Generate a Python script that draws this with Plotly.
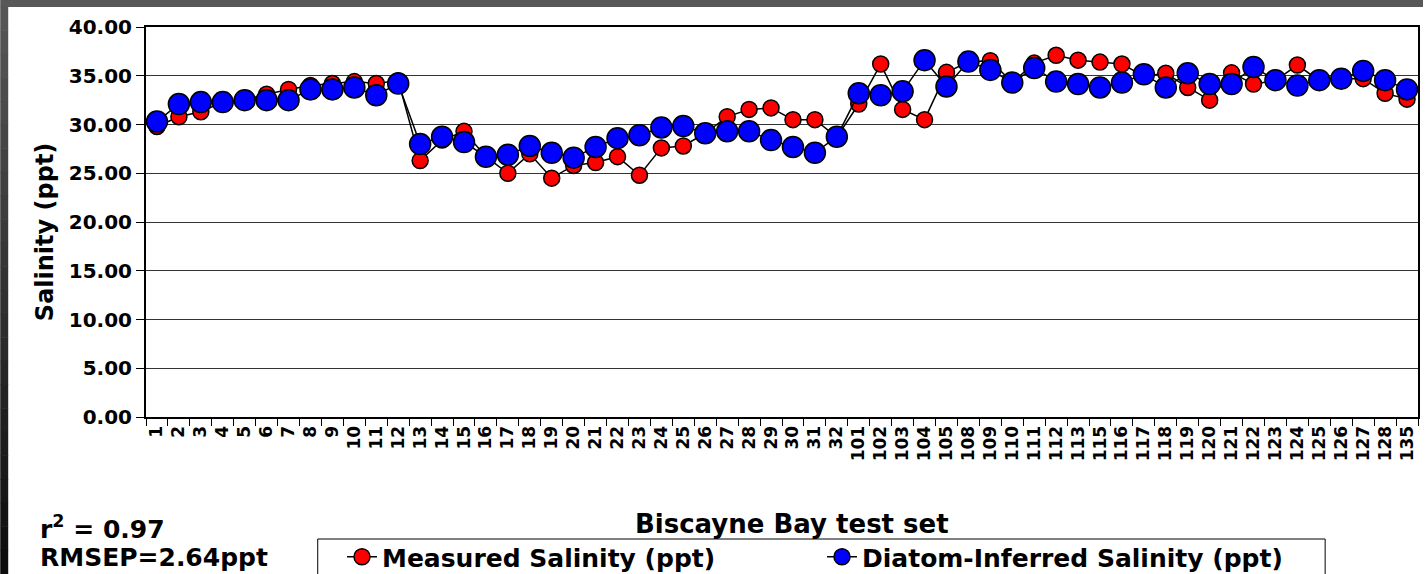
import plotly.graph_objects as go

# Biscayne Bay test-set sites
sites = [str(i) for i in range(1, 33)] + [
    "101", "102", "103", "104", "105", "108", "109", "110", "111", "112", "113",
    "115", "116", "117", "118", "119", "120", "121", "122", "123", "124", "125",
    "126", "127", "128", "135",
]

measured = [
    29.8, 30.8, 31.3, 32.3, 32.5, 33.1, 33.6, 34.0, 34.2, 34.4, 34.2, 34.5,
    26.3, 28.4, 29.3, 26.7, 25.0, 27.0, 24.5, 25.8, 26.1, 26.7, 24.8, 27.6,
    27.8, 29.1, 30.8, 31.55, 31.7, 30.5, 30.5, 28.7,
    32.1, 36.2, 31.55, 30.5, 35.35, 36.4, 36.55, 34.3, 36.3, 37.1, 36.6, 36.4,
    36.2, 34.95, 35.25, 33.8, 32.5, 35.3, 34.15, 34.5, 36.1, 34.5, 34.7, 34.7,
    33.2, 32.6,
]

inferred = [
    30.3, 32.1, 32.3, 32.3, 32.5, 32.5, 32.5, 33.6, 33.6, 33.8, 33.0, 34.2,
    28.0, 28.75, 28.2, 26.7, 26.9, 27.8, 27.1, 26.6, 27.7, 28.6, 28.9, 29.7,
    29.85, 29.1, 29.3, 29.3, 28.4, 27.7, 27.1, 28.75,
    33.2, 33.0, 33.4, 36.6, 33.9, 36.45, 35.6, 34.3, 35.8, 34.4, 34.15, 33.8,
    34.3, 35.15, 33.8, 35.25, 34.15, 34.15, 35.9, 34.55, 34.0, 34.55, 34.7,
    35.5, 34.55, 33.6,
]

y_ticks = [0, 5, 10, 15, 20, 25, 30, 35, 40]
y_tick_text = ["%.2f" % v for v in y_ticks]

W, H = 1425, 574
ML, MR, MT, MB = 146, 5, 27, 157
PW, PH = W - ML - MR, H - MT - MB

FONT = "DejaVu Sans"


def px_x(px):
    return (px - ML) / PW


def px_y(py):
    return (H - MB - py) / PH


fig = go.Figure()

fig.add_trace(go.Scatter(
    x=sites, y=measured, mode="lines+markers",
    name="<b>Measured Salinity (ppt)</b>", legend="legend",
    line=dict(color="black", width=1.5),
    marker=dict(color="#ff0000", size=16, line=dict(color="black", width=1.5)),
))
fig.add_trace(go.Scatter(
    x=sites, y=inferred, mode="lines+markers",
    name="<b>Diatom-Inferred Salinity (ppt)</b>", legend="legend2",
    line=dict(color="black", width=1.5),
    marker=dict(color="#0000ff", size=21, line=dict(color="black", width=1.5)),
))

# slide frame: grey top strip and dark left strip shading to black
shapes = [dict(type="rect", xref="paper", yref="paper",
               x0=px_x(0), x1=px_x(W), y0=px_y(7), y1=px_y(0),
               fillcolor="#585858", line=dict(width=0), layer="below")]
bands = 24
for i in range(bands):
    y0 = 7 + (H - 7) * i / bands
    y1 = 7 + (H - 7) * (i + 1) / bands
    g = int(88 - (88 - 12) * (i + 0.5) / bands)
    shapes.append(dict(type="rect", xref="paper", yref="paper",
                       x0=px_x(0), x1=px_x(8), y0=px_y(y1), y1=px_y(y0 - 0.5),
                       fillcolor="rgb(%d,%d,%d)" % (g, g, g),
                       line=dict(width=0), layer="below"))

# box around the two legend entries
shapes.append(dict(type="rect", xref="paper", yref="paper",
                   x0=px_x(318), x1=px_x(1327), y0=px_y(H + 6), y1=px_y(539),
                   fillcolor="white", line=dict(color="black", width=1),
                   layer="below"))

annotations = [
    dict(text="<b>Salinity (ppt)</b>", xref="paper", yref="paper",
         x=px_x(45), y=px_y(232), xanchor="center", yanchor="middle",
         textangle=-90, showarrow=False,
         font=dict(family=FONT, size=24, color="black")),
    dict(text="<b>Biscayne Bay test set</b>", xref="paper", yref="paper",
         x=px_x(793), y=px_y(524), xanchor="center", yanchor="middle",
         showarrow=False,
         font=dict(family=FONT, size=26, color="black")),
    dict(text="<b>r<sup>2</sup> = 0.97</b>", xref="paper", yref="paper",
         x=px_x(38), y=px_y(527), xanchor="left", yanchor="middle",
         showarrow=False,
         font=dict(family=FONT, size=25, color="black")),
    dict(text="<b>RMSEP=2.64ppt</b>", xref="paper", yref="paper",
         x=px_x(38), y=px_y(557), xanchor="left", yanchor="middle",
         showarrow=False,
         font=dict(family=FONT, size=25, color="black")),
]

legend_style = dict(
    orientation="h", xref="container", yref="container",
    xanchor="left", yanchor="middle",
    bgcolor="rgba(0,0,0,0)", borderwidth=0,
    font=dict(family=FONT, size=25, color="black"),
    itemsizing="trace",
)

fig.update_layout(
    width=W, height=H,
    margin=dict(l=ML, r=MR, t=MT, b=MB),
    paper_bgcolor="white", plot_bgcolor="white",
    shapes=shapes, annotations=annotations,
    showlegend=True,
    legend=dict(legend_style, x=342 / W, y=1 - 557 / H),
    legend2=dict(legend_style, x=822 / W, y=1 - 557 / H),
    xaxis=dict(
        type="category", range=[-0.5, len(sites) - 0.5],
        tickmode="array", tickvals=sites, ticktext=sites,
        tickson="boundaries",
        ticks="outside", ticklen=7, tickcolor="black", tickwidth=1,
        tickangle=-90,
        tickfont=dict(family=FONT, size=17, color="black", weight="bold"),
        showgrid=False, showline=True, linecolor="black", linewidth=2,
        mirror=True, zeroline=False,
    ),
    yaxis=dict(
        range=[0, 40], tickvals=y_ticks, ticktext=y_tick_text,
        ticks="outside", ticklen=8, tickcolor="black", tickwidth=1,
        tickfont=dict(family=FONT, size=20, color="black", weight="bold"),
        showgrid=True, gridcolor="#333333", gridwidth=1,
        showline=True, linecolor="black", linewidth=2, mirror=True,
        zeroline=False,
    ),
)

fig.write_html("out.html")
